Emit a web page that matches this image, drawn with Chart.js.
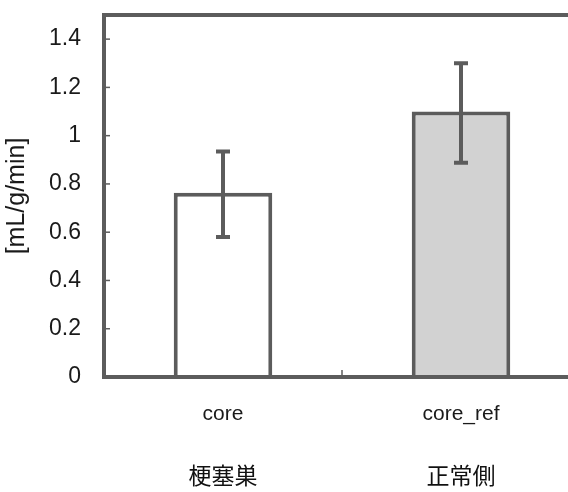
<!DOCTYPE html>
<html>
<head>
<meta charset="utf-8">
<script src="https://cdn.jsdelivr.net/npm/chart.js@4/dist/chart.umd.min.js"></script>
<style>
  html, body { margin: 0; padding: 0; background: #fff; overflow: hidden; }
  #wrap { width: 568px; height: 492px; overflow: hidden; position: relative; }
  canvas { display: block; }
</style>
</head>
<body>
<div id="wrap"><canvas id="c" width="580" height="492"></canvas></div>
<script>
// Perfusion values per region
const categories = ['core', 'core_ref'];
const regionNames = ['梗塞巣', '正常側'];
const meanFlow = [0.763, 1.10];
const errorLow = [0.58, 0.888];
const errorHigh = [0.934, 1.30];
const yTickValues = [0, 0.2, 0.4, 0.6, 0.8, 1, 1.2, 1.4];

const LINE = '#5c5c5c';
const SANS = 'Liberation Sans, Arial, sans-serif';

// Frame, inward ticks and error bars
const framePlugin = {
  id: 'frame',
  afterDatasetsDraw(chart) {
    const { ctx, chartArea: a, scales } = chart;
    const y = scales.y, x = scales.x;
    ctx.save();
    ctx.strokeStyle = LINE;
    ctx.lineCap = 'butt';

    // error bars
    ctx.lineWidth = 4;
    meanFlow.forEach((v, i) => {
      const cx = x.getPixelForValue(i);
      const yl = y.getPixelForValue(errorLow[i]);
      const yh = y.getPixelForValue(errorHigh[i]);
      ctx.beginPath();
      ctx.moveTo(cx, yl); ctx.lineTo(cx, yh);
      ctx.stroke();
      ctx.beginPath();
      ctx.moveTo(cx - 7, yl); ctx.lineTo(cx + 7, yl);
      ctx.moveTo(cx - 7, yh); ctx.lineTo(cx + 7, yh);
      ctx.stroke();
    });

    // frame: left, top, bottom
    ctx.lineWidth = 4;
    ctx.beginPath();
    ctx.moveTo(a.left, a.bottom);
    ctx.lineTo(a.left, a.top);
    ctx.lineTo(a.right + 20, a.top);
    ctx.moveTo(a.left - 2, a.bottom);
    ctx.lineTo(a.right + 20, a.bottom);
    ctx.stroke();

    // inward y ticks
    ctx.lineWidth = 1.5;
    yTickValues.forEach(v => {
      const py = y.getPixelForValue(v);
      ctx.beginPath();
      ctx.moveTo(a.left, py); ctx.lineTo(a.left + 6, py);
      ctx.stroke();
    });
    // category boundary tick
    const bx = (x.getPixelForValue(0) + x.getPixelForValue(1)) / 2;
    ctx.beginPath();
    ctx.moveTo(bx, a.bottom); ctx.lineTo(bx, a.bottom - 7);
    ctx.stroke();
    ctx.restore();
  }
};

new Chart(document.getElementById('c'), {
  type: 'bar',
  data: {
    labels: categories,
    datasets: [{
      data: meanFlow,
      backgroundColor: ['#ffffff', '#d2d2d2'],
      borderColor: LINE,
      borderWidth: 4,
      borderSkipped: 'start',
      categoryPercentage: 1,
      barPercentage: 0.414
    }]
  },
  options: {
    responsive: false,
    animation: false,
    events: [],
    layout: { padding: { left: 0, right: 0, top: 15, bottom: 0 } },
    plugins: { legend: { display: false }, tooltip: { enabled: false } },
    scales: {
      x: {
        position: 'bottom',
        grid: { display: false },
        border: { display: false },
        ticks: {
          color: '#1a1a1a',
          font: { family: SANS, size: 21 },
          padding: 17
        },
        afterFit(s) { s.height = 60; s.paddingLeft = 0; s.paddingRight = 0; }
      },
      x2: {
        type: 'category',
        labels: regionNames,
        position: 'bottom',
        offset: true,
        grid: { display: false },
        border: { display: false },
        ticks: {
          color: '#111',
          font: { family: '"Noto Sans CJK JP", sans-serif', size: 23 },
          padding: 16
        },
        afterFit(s) { s.height = 55; s.paddingLeft = 0; s.paddingRight = 0; }
      },
      y: {
        min: 0,
        max: 1.5,
        afterBuildTicks(s) { s.ticks = yTickValues.map(v => ({ value: v })); },
        grid: { display: false },
        border: { display: false },
        ticks: {
          color: '#1a1a1a',
          font: { family: SANS, size: 23 },
          padding: 15,
          callback: v => String(v)
        },
        title: {
          display: true,
          text: '[mL/g/min]',
          color: '#1a1a1a',
          font: { family: SANS, size: 25 },
          padding: { top: 2, bottom: 0 }
        },
        afterFit(s) { s.width = 104; s.paddingTop = 0; s.paddingBottom = 0; }
      }
    }
  },
  plugins: [framePlugin]
});
</script>
</body>
</html>
